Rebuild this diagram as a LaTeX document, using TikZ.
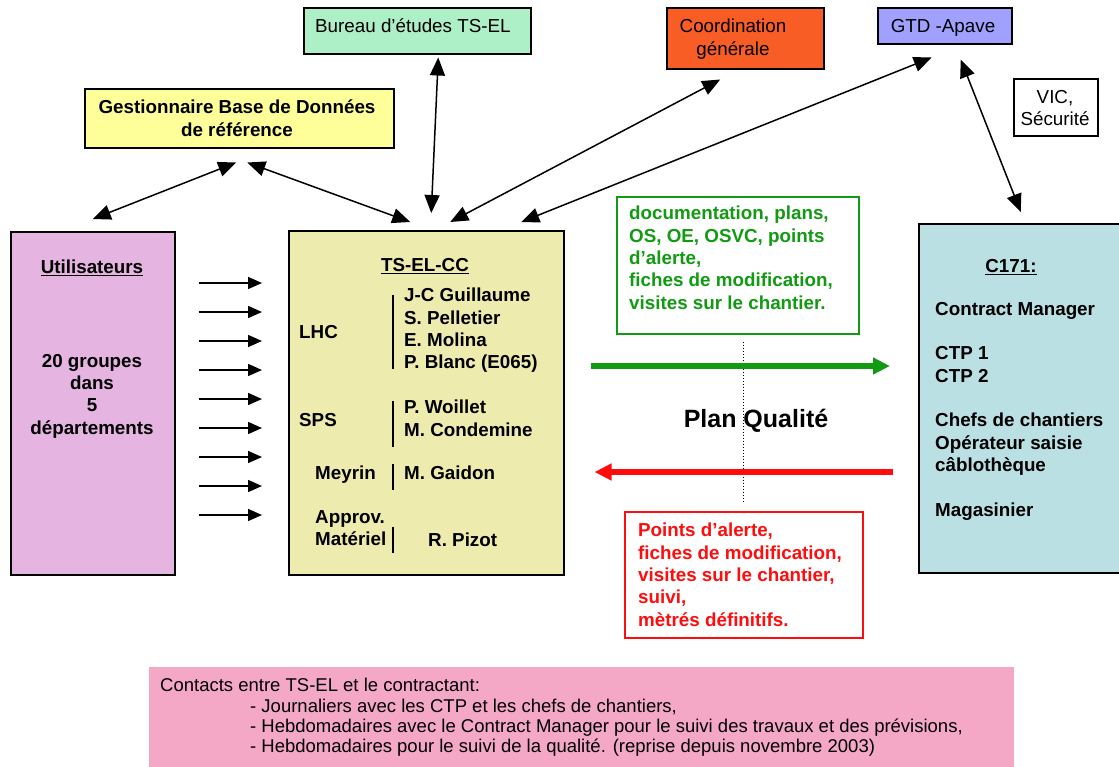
\documentclass[tikz,border=0pt]{standalone}
\usepackage{fontspec}
\setmainfont{Liberation Sans}
\usepackage{xcolor}
\usepackage{tikz}
\usetikzlibrary{positioning,arrows.meta}
\definecolor{bureauGreen}{HTML}{ADEFC6}
\definecolor{gestYellow}{HTML}{FFFF99}
\definecolor{coordOrange}{HTML}{F95D26}
\definecolor{gtdBlue}{HTML}{A0A0FF}
\definecolor{userMauve}{HTML}{E6B4E1}
\definecolor{tsYellow}{HTML}{EEEBAF}
\definecolor{siteBlue}{HTML}{BBE0E3}
\definecolor{docGreen}{HTML}{129A12}
\definecolor{alertRed}{HTML}{FF0D0D}
\definecolor{noteRose}{HTML}{F4A8C6}
\newcommand\diagsize{\fontsize{18.8}{22.3}\selectfont}
\newcommand\notesize{\fontsize{18.5}{20.4}\selectfont}

\begin{document}
\begin{tikzpicture}[x=1pt, y=-1pt,
    box/.style={draw, line width=1.5pt, inner sep=0pt, anchor=north west},
    txt/.style={inner sep=0pt, align=left, font=\diagsize},
    btxt/.style={inner sep=0pt, align=left, font=\diagsize\bfseries},
    link/.style={{Triangle[length=18pt,width=15pt]}-{Triangle[length=18pt,width=15pt]}, line width=1.5pt},
    feed/.style={-{Triangle[length=14pt,width=12pt]}, line width=1.5pt},
    flow/.style={-{Triangle[length=17pt,width=16pt]}, line width=6pt},
    bar/.style={line width=1.4pt}
  ]
  \useasboundingbox (0,0) rectangle (1119,766);
  \fill[white] (0,0) rectangle (1119,766);

  % Top boxes
  \node[box, fill=bureauGreen, minimum width=227pt, minimum height=46pt] (bureau) at (303,7) {};
  \node[txt, anchor=base west] (bureaulbl) at (315,32.7) {Bureau d’études TS-EL};
  \node[box, fill=gestYellow, minimum width=309pt, minimum height=59pt] (gest) at (84,88) {};
  \node[btxt, align=center, anchor=north] (gestlbl) at (237,100) {Gestionnaire Base de Données\\de référence};
  \node[box, fill=coordOrange, minimum width=157pt, minimum height=61pt] (coord) at (666,7) {};
  \node[txt, align=center, anchor=north] (coordlbl) at (733,19) {Coordination\\générale};
  \node[box, fill=gtdBlue, minimum width=134pt, minimum height=36pt] (gtd) at (877,7) {};
  \node[txt, anchor=base] (gtdlbl) at (943,32.7) {GTD -Apave};
  \node[box, fill=white, minimum width=84pt, minimum height=57pt] (vic) at (1013,78) {};
  \node[txt, align=center, anchor=north] (viclbl) at (1055,90) {VIC,\\Sécurité};

  % Users
  \node[box, fill=userMauve, minimum width=164pt, minimum height=343pt] (util) at (10,231) {};
  \node[btxt, anchor=base] (utiltitle) at (92,273.7) {\underline{Utilisateurs}};
  \node[btxt, align=center, anchor=north] (utilbody) at (92,354) {20 groupes\\dans\\5\\départements};

  % TS-EL-CC
  \node[box, fill=tsYellow, minimum width=275pt, minimum height=344pt] (ts) at (288,230) {};
  \node[btxt, anchor=base] (tstitle) at (425,271.7) {\underline{TS-EL-CC}};
  \node[btxt, anchor=base west] (lhc) at (299,338.7) {LHC};
  \node[btxt, anchor=north west] (lhcnames) at (404,288) {J-C Guillaume\\S. Pelletier\\E. Molina\\P. Blanc (E065)};
  \node[btxt, anchor=base west] (sps) at (299,426.7) {SPS};
  \node[btxt, anchor=north west] (spsnames) at (404,400) {P. Woillet\\M. Condemine};
  \node[btxt, anchor=base west] (meyrin) at (315,479) {Meyrin};
  \node[btxt, anchor=base west] (gaidon) at (404,479) {M. Gaidon};
  \node[btxt, anchor=north west] (approv) at (315,510) {Approv.\\Matériel};
  \node[btxt, anchor=base west] (pizot) at (428,546.7) {R. Pizot};
  \draw[bar] ([xshift=-11pt,yshift=-7pt]lhcnames.north west) -- ([xshift=-11pt,yshift=4pt]lhcnames.south west);
  \draw[bar] ([xshift=-11pt,yshift=-1pt]spsnames.north west) -- ([xshift=-11pt,yshift=-10pt]spsnames.south west);
  \draw[bar] ([xshift=-11pt,yshift=1.5pt]gaidon.north west) -- ([xshift=-11pt,yshift=-11pt]gaidon.south west);
  \draw[bar] ([xshift=-35pt,yshift=6pt]pizot.north west) -- ([xshift=-35pt,yshift=-6pt]pizot.south west);

  % Contractor
  \node[box, fill=siteBlue, minimum width=210pt, minimum height=349pt] (c171) at (918,223) {};
  \node[btxt, anchor=base] (c171title) at (1011,272.7) {\underline{C171:}};
  \node[btxt, anchor=north west] (c171staff) at (935,302)
    {Contract Manager\\[22.3pt]CTP 1\\CTP 2\\[22.3pt]Chefs de chantiers\\Opérateur saisie\\câblothèque\\[22.3pt]Magasinier};

  % Plan qualite exchanges
  \node[box, draw=docGreen, minimum width=242pt, minimum height=137pt] (docbox) at (616,196) {};
  \node[btxt, text=docGreen, anchor=north west] (doclbl) at ([xshift=13pt,yshift=-10pt]docbox.north west)
    {documentation, plans,\\OS, OE, OSVC, points\\d’alerte,\\fiches de modification,\\visites sur le chantier.};
  \node[box, draw=alertRed, minimum width=238pt, minimum height=126pt] (alertbox) at (624,511) {};
  \node[btxt, text=alertRed, anchor=north west] (alertlbl) at ([xshift=14pt,yshift=-12pt]alertbox.north west)
    {Points d’alerte,\\fiches de modification,\\visites sur le chantier,\\suivi,\\mètrés définitifs.};
  \node[inner sep=0pt, font=\fontsize{25}{30}\selectfont\bfseries, anchor=base] (plan) at (756,427) {Plan Qualité};
  \draw[dotted, line width=1pt, shorten <=7pt, shorten >=8pt] (alertbox.north |- docbox.south) -- (alertbox.north);
  \draw[flow, docGreen, shorten <=26pt, shorten >=28pt] (ts.east |- 0,366) -- (c171.west |- 0,366);
  \draw[flow, alertRed, shorten <=25pt, shorten >=30pt] (c171.west |- 0,472) -- (ts.east |- 0,472);

  % Contacts
  \node[box, draw=none, fill=noteRose, minimum width=865pt, minimum height=105pt] (note) at (148,666) {};
  \node[inner sep=0pt, align=left, font=\notesize, anchor=north west] (notelbl) at ([xshift=12pt,yshift=-12pt]note.north west)
    {Contacts entre TS-EL et le contractant:\\
     \hspace*{90pt}- Journaliers avec les CTP et les chefs de chantiers,\\
     \hspace*{90pt}- Hebdomadaires avec le Contract Manager pour le suivi des travaux et des prévisions,\\
     \hspace*{90pt}- Hebdomadaires pour le suivi de la qualité. (reprise depuis novembre 2003)};

  % Links
  \draw[link] ([xshift=-3pt,yshift=-14pt]gest.south) -- ([yshift=12pt]util.north);
  \draw[link] ([xshift=8pt,yshift=-14pt]gest.south) -- ([xshift=-16pt,yshift=8pt]ts.north);
  \draw[link] ([xshift=21pt,yshift=-3pt]bureau.south) -- ([xshift=5pt,yshift=17pt]ts.north);
  \draw[link] ([xshift=-25pt,yshift=-10pt]coord.south) -- ([xshift=24pt,yshift=8pt]ts.north);
  \draw[link] ([xshift=-13pt,yshift=-13pt]gtd.south) -- ([xshift=95pt,yshift=8pt]ts.north);
  \draw[link] ([xshift=16pt,yshift=-15pt]gtd.south) -- ([xshift=-3pt,yshift=11pt]c171.north);
  \foreach \i in {0,...,8}
    \draw[feed, shorten <=23pt, shorten >=26pt] (util.east |- 0,{283+29*\i}) -- (ts.west |- 0,{283+29*\i});
\end{tikzpicture}
\end{document}
